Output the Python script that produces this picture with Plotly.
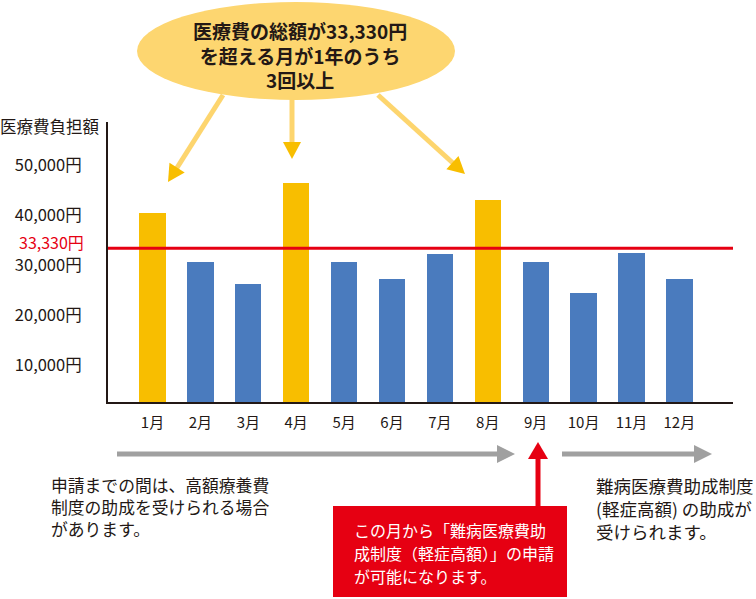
import math
import plotly.graph_objects as go

# ---- data ----
months = ["1月", "2月", "3月", "4月", "5月", "6月", "7月", "8月", "9月", "10月", "11月", "12月"]
costs = [40500, 30700, 26300, 46500, 30700, 27200, 32200, 43100, 30700, 24500, 32500, 27300]
threshold = 33330
ytick_vals = [10000, 20000, 30000, 40000, 50000]
ytick_text = ["10,000円", "20,000円", "30,000円", "40,000円", "50,000円"]

W, H = 756, 599
FONT = "Noto Sans CJK JP"
DARK = "#231815"
YELLOW = "#F8BE00"
BLUE = "#4A7BBE"
RED = "#E60012"
GRAY = "#A0A0A0"
LIGHTY = "#FDD56E"


def X(px):
    return px / W


def Y(py):
    return 1 - py / H


colors = [YELLOW if c > threshold else BLUE for c in costs]

fig = go.Figure()
fig.add_trace(go.Bar(
    x=list(range(len(months))), y=costs, width=0.55,
    marker=dict(color=colors, line=dict(width=0)),
    hoverinfo="skip",
))

shapes = []
annotations = []


def arrow(x0, y0, x1, y1, color, head_color=None, lw=5, hl=17, hw=9):
    hc = head_color or color
    dx, dy = x1 - x0, y1 - y0
    L = math.hypot(dx, dy)
    ux, uy = dx / L, dy / L
    bx, by = x1 - ux * hl, y1 - uy * hl
    shapes.append(dict(type="line", xref="paper", yref="paper",
                       x0=X(x0), y0=Y(y0), x1=X(bx + ux * 1), y1=Y(by + uy * 1),
                       line=dict(color=color, width=lw)))
    px_, py_ = -uy, ux
    p1 = (bx + px_ * hw, by + py_ * hw)
    p2 = (bx - px_ * hw, by - py_ * hw)
    path = "M {} {} L {} {} L {} {} Z".format(X(x1), Y(y1), X(p1[0]), Y(p1[1]), X(p2[0]), Y(p2[1]))
    shapes.append(dict(type="path", xref="paper", yref="paper", path=path,
                       fillcolor=hc, line=dict(width=0)))


# threshold line
shapes.append(dict(type="line", xref="paper", yref="y", x0=X(108), x1=X(733),
                   y0=threshold, y1=threshold, line=dict(color=RED, width=3)))

# yellow arrows from the ellipse
arrow(223, 95, 168, 182, LIGHTY, YELLOW)
arrow(292, 98, 292, 159, LIGHTY, YELLOW)
arrow(378, 95, 465, 174, LIGHTY, YELLOW)

# ellipse
shapes.append(dict(type="circle", xref="paper", yref="paper",
                   x0=X(137), x1=X(455), y0=Y(100), y1=Y(2),
                   fillcolor="#FDD670", line=dict(width=0)))

# gray arrows
arrow(117, 454, 515, 454, GRAY, lw=5, hl=18, hw=9)
arrow(562, 454, 712, 454, GRAY, lw=5, hl=18, hw=9)

# red arrow and box
arrow(538, 507, 538, 442, RED, lw=5, hl=17, hw=10)
shapes.append(dict(type="rect", xref="paper", yref="paper",
                   x0=X(333), x1=X(567), y0=Y(597), y1=Y(506),
                   fillcolor=RED, line=dict(width=0)))


def text(px, py, s, size=16, color=DARK, anchor="left", bold=False):
    annotations.append(dict(
        xref="paper", yref="paper", x=X(px), y=Y(py), text=("<b>" + s + "</b>") if bold else s,
        showarrow=False, xanchor=anchor, yanchor="middle",
        font=dict(family=FONT, size=size, color=color), align=anchor,
    ))


# ellipse text
text(300, 55, "医療費の総額が33,330円<br>を超える月が1年のうち<br>3回以上", 19, DARK, "center", True)

# y axis title
text(50, 126, "医療費負担額", 16.5, DARK, "center")

# red threshold label
annotations.append(dict(xref="paper", yref="y", x=X(86), y=threshold, yshift=6,
                        text="33,330円", showarrow=False, xanchor="right", yanchor="middle",
                        font=dict(family=FONT, size=16, color=RED)))

# left text
text(49, 507, "申請までの間は、高額療養費<br>制度の助成を受けられる場合<br>があります。", 16.8, DARK)

# right text
text(594, 508, "難病医療費助成制度<br>(軽症高額) の助成が<br>受けられます。", 17.5, DARK)

# red box text
for i, s in enumerate(["この月から「難病医療費助", "成制度（軽症高額）」の申請", "が可能になります。"]):
    text(352, 530 + 23 * i, s, 16, "white")

fig.update_layout(
    width=W, height=H,
    margin=dict(l=0, r=0, t=0, b=0),
    paper_bgcolor="white", plot_bgcolor="white",
    showlegend=False,
    bargap=0,
    shapes=shapes, annotations=annotations,
    font=dict(family=FONT, color=DARK),
    xaxis=dict(
        domain=[X(108), X(733)],
        range=[-0.929, 12.12],
        tickvals=list(range(len(months))), ticktext=months,
        showgrid=False, zeroline=False, showline=True, linecolor=DARK, linewidth=2,
        ticks="", tickfont=dict(family=FONT, size=15, color=DARK),
        ticklabelstandoff=6, automargin=False, fixedrange=True,
    ),
    yaxis=dict(
        domain=[Y(402), Y(122)],
        range=[2600, 58600],
        tickvals=ytick_vals, ticktext=ytick_text,
        showgrid=False, zeroline=False, showline=True, linecolor=DARK, linewidth=2,
        ticks="", tickfont=dict(family=FONT, size=16.5, color=DARK),
        ticklabelstandoff=21, automargin=False, fixedrange=True,
    ),
)

fig.write_html("out.html", config={"displayModeBar": False})
